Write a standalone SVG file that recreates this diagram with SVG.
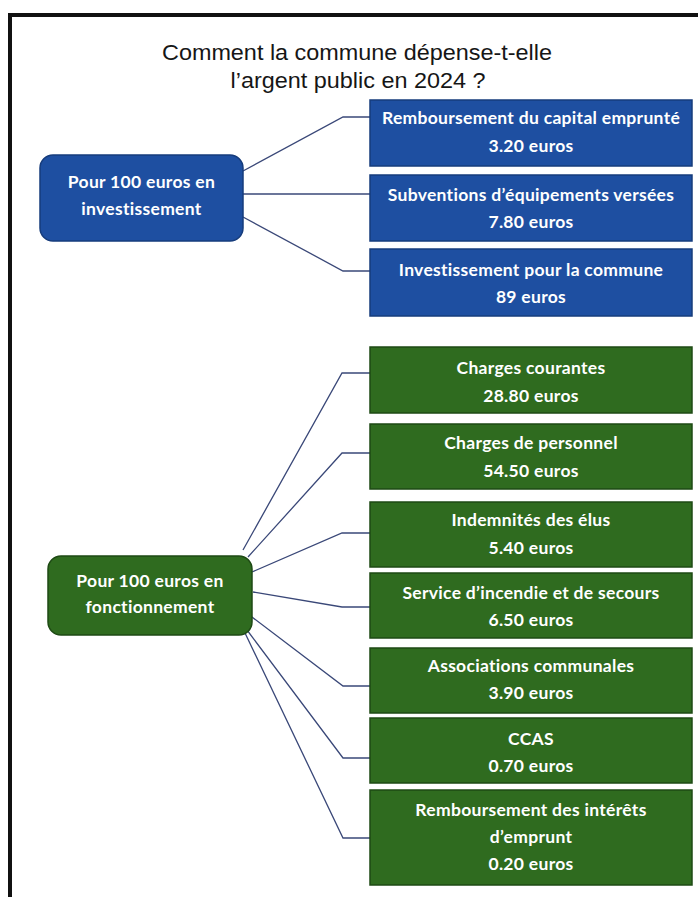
<svg xmlns="http://www.w3.org/2000/svg" width="698" height="897" viewBox="0 0 698 897">
<defs>
<style>
.title{font-family:"Liberation Sans",Arial,sans-serif;font-size:22px;fill:#161616;text-anchor:middle}
.lbl{font-family:Lato,"Open Sans",sans-serif;font-weight:bold;font-size:17.5px;letter-spacing:0.3px;fill:#ffffff;text-anchor:middle}
.blue{fill:#1e4fa1;stroke:#163c7c;stroke-width:1.5}
.green{fill:#2f6b1f;stroke:#1e4a14;stroke-width:1.5}
.conn{fill:none;stroke:#3a4878;stroke-width:1.3}
</style>
</defs>
<rect x="0" y="0" width="698" height="897" fill="#ffffff"/>
<g id="frame">
<line x1="8" y1="15" x2="698" y2="15" stroke="#111" stroke-width="4"/>
<line x1="10" y1="13" x2="10" y2="897" stroke="#111" stroke-width="4"/>
</g>
<g id="title">
<text class="title" x="357" y="60" textLength="390" lengthAdjust="spacingAndGlyphs">Comment la commune dépense-t-elle</text>
<text class="title" x="358" y="88" textLength="255" lengthAdjust="spacingAndGlyphs">l’argent public en 2024 ?</text>
</g>
<g id="connectors">
<polyline class="conn" points="243,171 343,117 370,117"/>
<polyline class="conn" points="243,194 370,194"/>
<polyline class="conn" points="243,217 343,271 370,271"/>
<polyline class="conn" points="243,550 342,373 370,373"/>
<polyline class="conn" points="248,557 342,453 370,453"/>
<polyline class="conn" points="252,572 342,533 370,533"/>
<polyline class="conn" points="253,592 342,607 370,607"/>
<polyline class="conn" points="248,614 343,686 370,686"/>
<polyline class="conn" points="247,630 343,758 370,758"/>
<polyline class="conn" points="245,633 343,838 370,838"/>
</g>
<g id="inv">
<rect class="blue" x="40" y="155" width="203" height="86" rx="13"/>
<text class="lbl" x="141.5" y="188">Pour 100 euros en</text>
<text class="lbl" x="141.5" y="215">investissement</text>
</g>
<g id="inv1">
<rect class="blue" x="370" y="100" width="322" height="66"/>
<text class="lbl" x="531" y="124">Remboursement du capital emprunté</text>
<text class="lbl" x="531" y="152">3.20 euros</text>
</g>
<g id="inv2">
<rect class="blue" x="370" y="175" width="322" height="66"/>
<text class="lbl" x="531" y="201">Subventions d’équipements versées</text>
<text class="lbl" x="531" y="228">7.80 euros</text>
</g>
<g id="inv3">
<rect class="blue" x="370" y="249" width="322" height="67"/>
<text class="lbl" x="531" y="276">Investissement pour la commune</text>
<text class="lbl" x="531" y="303">89 euros</text>
</g>
<g id="fonc">
<rect class="green" x="48" y="556" width="204" height="79" rx="13"/>
<text class="lbl" x="150" y="587">Pour 100 euros en</text>
<text class="lbl" x="150" y="613">fonctionnement</text>
</g>
<g id="f1">
<rect class="green" x="370" y="347" width="322" height="66"/>
<text class="lbl" x="531" y="374">Charges courantes</text>
<text class="lbl" x="531" y="402">28.80 euros</text>
</g>
<g id="f2">
<rect class="green" x="370" y="424" width="322" height="65"/>
<text class="lbl" x="531" y="449">Charges de personnel</text>
<text class="lbl" x="531" y="477">54.50 euros</text>
</g>
<g id="f3">
<rect class="green" x="370" y="502" width="322" height="65"/>
<text class="lbl" x="531" y="526">Indemnités des élus</text>
<text class="lbl" x="531" y="554">5.40 euros</text>
</g>
<g id="f4">
<rect class="green" x="370" y="573" width="322" height="65"/>
<text class="lbl" x="531" y="599">Service d’incendie et de secours</text>
<text class="lbl" x="531" y="626">6.50 euros</text>
</g>
<g id="f5">
<rect class="green" x="370" y="648" width="322" height="65"/>
<text class="lbl" x="531" y="672">Associations communales</text>
<text class="lbl" x="531" y="699">3.90 euros</text>
</g>
<g id="f6">
<rect class="green" x="370" y="718" width="322" height="65"/>
<text class="lbl" x="531" y="745">CCAS</text>
<text class="lbl" x="531" y="772">0.70 euros</text>
</g>
<g id="f7">
<rect class="green" x="370" y="790" width="322" height="95"/>
<text class="lbl" x="531" y="816">Remboursement des intérêts</text>
<text class="lbl" x="531" y="843">d’emprunt</text>
<text class="lbl" x="531" y="870">0.20 euros</text>
</g>
</svg>
